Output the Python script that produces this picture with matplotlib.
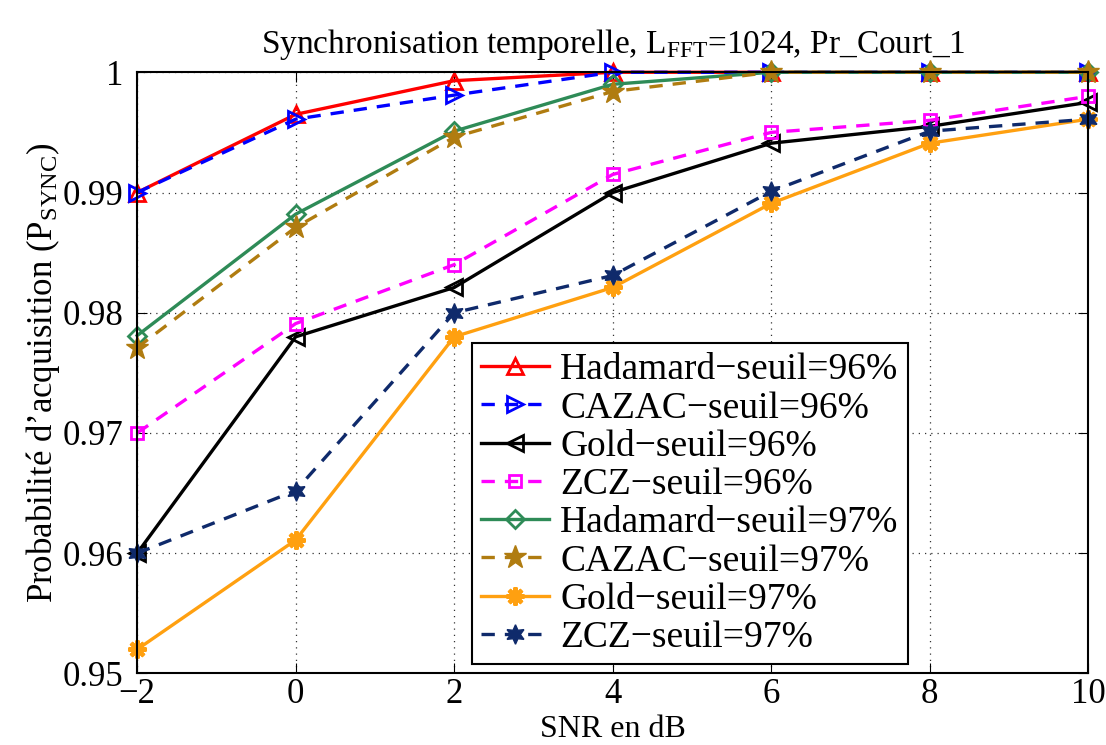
import matplotlib
matplotlib.use("Agg")
import matplotlib.pyplot as plt

plt.rcParams["font.family"] = ["Liberation Serif", "DejaVu Serif"]
plt.rcParams["mathtext.fontset"] = "custom"
plt.rcParams["mathtext.rm"] = "Liberation Serif"
plt.rcParams["mathtext.it"] = "Liberation Serif:italic"

snr = [-2, 0, 2, 4, 6, 8, 10]

hadamard_96 = [0.9900, 0.9965, 0.9993, 1.0, 1.0, 1.0, 1.0]
cazac_96 = [0.9900, 0.9961, 0.9981, 1.0, 1.0, 1.0, 1.0]
gold_96 = [0.9600, 0.9780, 0.9821, 0.9900, 0.9941, 0.9955, 0.9975]
zcz_96 = [0.9700, 0.9791, 0.9840, 0.9915, 0.9950, 0.9960, 0.9980]
hadamard_97 = [0.9781, 0.9882, 0.9951, 0.9990, 1.0, 1.0, 1.0]
cazac_97 = [0.9771, 0.9871, 0.9946, 0.9984, 1.0, 1.0, 1.0]
gold_97 = [0.9520, 0.9611, 0.9780, 0.9821, 0.9891, 0.9941, 0.9961]
zcz_97 = [0.9600, 0.9652, 0.9800, 0.9831, 0.9901, 0.9951, 0.9961]

labels = ["Hadamard\u2212seuil=96%", "CAZAC\u2212seuil=96%", "Gold\u2212seuil=96%",
          "ZCZ\u2212seuil=96%", "Hadamard\u2212seuil=97%", "CAZAC\u2212seuil=97%",
          "Gold\u2212seuil=97%", "ZCZ\u2212seuil=97%"]

yticks = [0.95, 0.96, 0.97, 0.98, 0.99, 1.0]
ytick_labels = ["0.95", "0.96", "0.97", "0.98", "0.99", "1"]

fig = plt.figure(figsize=(11.06, 7.45), dpi=100)
ax = fig.add_axes([0.124, 0.096, 0.860, 0.807])

lw = 2.4
common = dict(lw=lw, clip_on=False)
ax.plot(snr, hadamard_96, color="red", marker="^", ms=11, mfc="none", mew=2, label=labels[0], **common)
ax.plot(snr, cazac_96, color="blue", ls="--", dashes=(4, 3), marker=">", ms=11, mfc="none", mew=2, label=labels[1], **common)
ax.plot(snr, gold_96, color="black", marker="<", ms=11, mfc="none", mew=2, label=labels[2], **common)
ax.plot(snr, zcz_96, color="magenta", ls="--", dashes=(4, 3), marker="s", ms=9, mfc="none", mew=2, label=labels[3], **common)
ax.plot(snr, hadamard_97, color="#2e8b57", marker="D", ms=9, mfc="none", mew=2, label=labels[4], **common)
ax.plot(snr, cazac_97, color="#b07c10", ls="--", dashes=(4, 3), marker="*", ms=17, label=labels[5], **common)
ax.plot(snr, gold_97, color="#ffa010", marker=(8, 2, 0), ms=13, mew=3, label=labels[6], **common)
ax.plot(snr, zcz_97, color="#0f2a6b", ls="--", dashes=(4, 3), marker=(6, 1, 0), ms=14, label=labels[7], **common)

ax.set_xlim(-2, 10)
ax.set_ylim(0.95, 1.0)
ax.set_xticks(snr)
ax.set_xticklabels(["\u22122", "0", "2", "4", "6", "8", "10"])
ax.set_yticks(yticks)
ax.set_yticklabels(ytick_labels)
ax.tick_params(direction="in", top=True, right=True, labelsize=25, length=7)
ax.tick_params(axis="x", pad=3)
ax.tick_params(axis="y", pad=10)
ax.grid(True, ls=(0, (1, 4)), color="black", lw=0.9, alpha=0.8)
for s in ax.spines.values():
    s.set_linewidth(1.5)

ax.set_xlabel("SNR en dB", fontsize=23, va="bottom")
ax.xaxis.set_label_coords(0.554, 0.002, transform=fig.transFigure)
ax.set_ylabel("Probabilit\u00e9 d\u2019acquisition (P$_{\\mathrm{SYNC}}$)", fontsize=25, labelpad=0)
ax.set_title("Synchronisation temporelle, L$_{\\mathrm{FFT}}$=1024, Pr_Court_1", fontsize=24, pad=14)

leg = ax.legend(loc="lower left", bbox_to_anchor=(0.352, 0.015), fontsize=27,
                frameon=True, fancybox=False, edgecolor="black", framealpha=1,
                handlelength=1.8, borderpad=0.25, labelspacing=0.1, handletextpad=0.3,
                borderaxespad=0)
leg.get_frame().set_linewidth(1.5)

fig.savefig("out.png", dpi=100)
plt.close(fig)
